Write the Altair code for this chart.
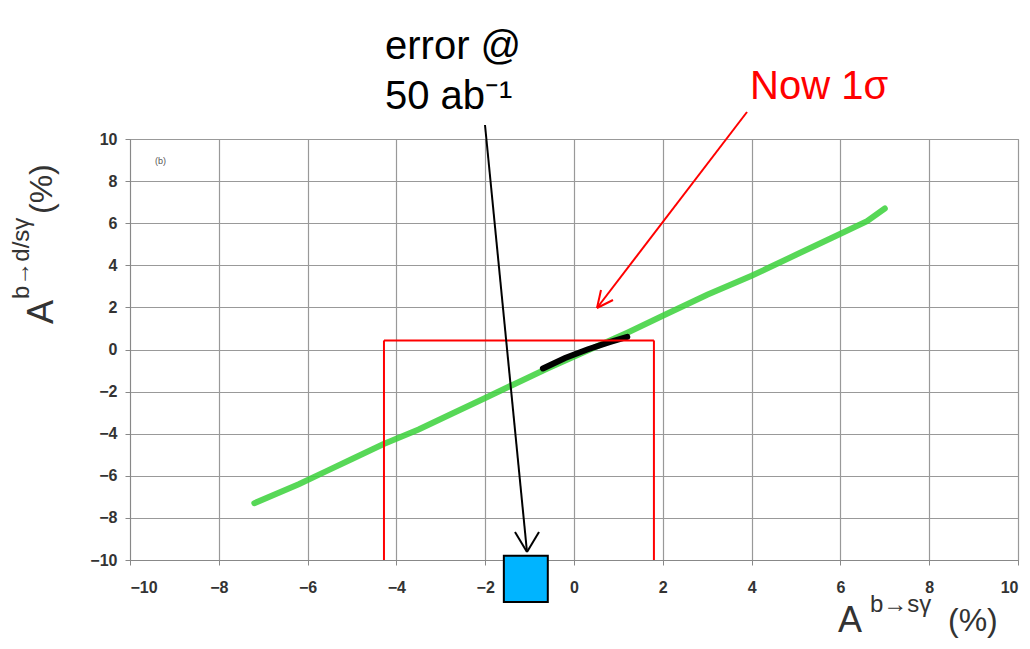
import altair as alt
import pandas as pd

# scan points along the allowed band (A_b->s gamma, A_b->d/s gamma), in %
green_x = [-7.2, -6.2, -5.6, -5.0, -4.3, -3.5, -2.8, -2.0, -1.3, -0.6, 1.2, 2.0, 3.0, 4.0, 5.0, 5.8, 6.6, 7.0]
green_y = [-7.3, -6.4, -5.8, -5.2, -4.5, -3.8, -3.1, -2.3, -1.6, -0.9, 0.8, 1.6, 2.6, 3.5, 4.5, 5.3, 6.1, 6.7]
black_x = [-0.7, -0.2, 0.3, 0.8, 1.2]
black_y = [-0.9, -0.4, 0.0, 0.35, 0.6]

# current 1 sigma box and projected error
box_x = [-4.28, 1.8]
box_ytop = 0.43
err_x = [-1.58, -0.59]
err_y = [-9.8, -12.0]

W, H = 888, 421
xs = alt.Scale(domain=[-10, 10], nice=False)
ys = alt.Scale(domain=[-10, 10], nice=False)
ticks = list(range(-10, 11, 2))
fnt = "Liberation Sans"

band = pd.DataFrame({"x": green_x, "y": green_y})
core = pd.DataFrame({"x": black_x, "y": black_y})

base_axes = alt.Chart(band).mark_line(color="#3ad13a", strokeWidth=6, opacity=0.85, strokeCap="round").encode(
    x=alt.X("x:Q", scale=xs, axis=alt.Axis(values=ticks, grid=True, gridColor="#999", gridWidth=1.2,
                                           domainColor="#888", tickColor="#888", labelFont=fnt, labelFontWeight="bold",
                                           labelFontSize=16, labelColor="#333", labelPadding=14, title=None)),
    y=alt.Y("y:Q", scale=ys, axis=alt.Axis(values=ticks, grid=True, gridColor="#999", gridWidth=1.2,
                                           domainColor="#888", tickColor="#888", labelFont=fnt, labelFontWeight="bold",
                                           labelFontSize=16, labelColor="#333", labelPadding=8, title=None)),
)
black = alt.Chart(core).mark_line(color="black", strokeWidth=6, strokeCap="round").encode(x="x:Q", y="y:Q")

box = pd.DataFrame({"x": [box_x[0], box_x[1], box_x[0]], "x2": [box_x[0], box_x[1], box_x[1]],
                    "y": [-10, -10, box_ytop], "y2": [box_ytop, box_ytop, box_ytop]})
red_box = alt.Chart(box).mark_rule(color="red", strokeWidth=2).encode(x="x:Q", x2="x2", y="y:Q", y2="y2")

err = pd.DataFrame({"x": [err_x[0]], "x2": [err_x[1]], "y": [err_y[0]], "y2": [err_y[1]]})
err_rect = alt.Chart(err).mark_rect(color="#00b4ff", stroke="black", strokeWidth=2, clip=False).encode(
    x="x:Q", x2="x2", y="y:Q", y2="y2")

# annotation arrows in pixel space (relative to the plot origin)
arrows = pd.DataFrame({
    "x": [355, 397, 397, 617, 467, 467],
    "y": [-14, 413, 413, -27, 169, 169],
    "x2": [397, 385, 409, 467, 483, 471],
    "y2": [413, 393, 393, 169, 161, 151],
    "c": ["black", "black", "black", "red", "red", "red"],
})
arrow = alt.Chart(arrows).mark_rule(strokeWidth=2).encode(
    x=alt.X("x:Q", scale=None), y=alt.Y("y:Q", scale=None),
    x2="x2", y2="y2", color=alt.Color("c:N", scale=None))

labels = pd.DataFrame({
    "t": ["error @", "50 ab\u207b\u00b9", "Now 1\u03c3", "(b)", "A", "b\u2192s\u03b3", "(%)"],
    "x": [255, 255, 620, 25, 708, 740, 818],
    "y": [-92, -42, -52, 22, 482, 466, 482],
    "c": ["black", "black", "red", "#555", "#333", "#333", "#333"],
    "s": [40, 40, 40, 9, 36, 24, 32],
})
txt = alt.Chart(labels).mark_text(font=fnt, align="left", baseline="middle").encode(
    x=alt.X("x:Q", scale=None), y=alt.Y("y:Q", scale=None), text="t:N",
    color=alt.Color("c:N", scale=None), size=alt.Size("s:Q", scale=None))

ylab = pd.DataFrame({
    "t": ["A", "b\u2192d/s\u03b3", "(%)"],
    "x": [-88, -108, -88],
    "y": [185, 160, 75],
    "s": [36, 24, 32],
})
ytxt = alt.Chart(ylab).mark_text(font=fnt, align="left", baseline="middle", angle=270, color="#333").encode(
    x=alt.X("x:Q", scale=None), y=alt.Y("y:Q", scale=None), text="t:N",
    size=alt.Size("s:Q", scale=None))

chart = alt.layer(base_axes, black, red_box, err_rect, arrow, txt, ytxt).properties(
    width=W, height=H, autosize=alt.AutoSizeParams(type="none"),
    padding={"left": 122, "top": 131, "right": 4, "bottom": 80},
).configure_view(stroke="#888")

chart.save("out.html", embed_options={"renderer": "svg", "actions": False})
